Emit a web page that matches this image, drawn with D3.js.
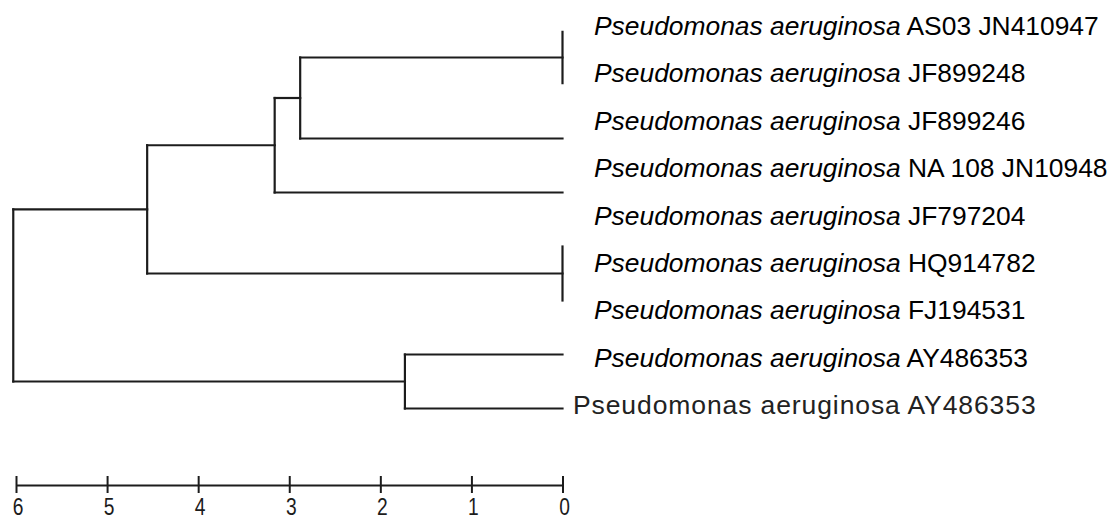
<!DOCTYPE html>
<html>
<head>
<meta charset="utf-8">
<script src="https://cdn.jsdelivr.net/npm/d3@7"></script>
<style>
  html, body { margin: 0; padding: 0; background: #fff; }
  svg { display: block; }
</style>
</head>
<body>
<svg id="chart" width="1113" height="520"></svg>
<script>
// ---- data ----
// terminal branches of the tree (top to bottom), their row in the tree and
// the half-height of the collapsed (zero distance) clusters drawn as a bar
const tipIds    = ["clusterA", "JF899246", "NA108", "clusterB", "AY486353a", "AY486353b"];
const tipRows   = [2, 5, 7, 10, 13, 15];
const tipSpans  = [0.95, 0, 0, 1.0, 0, 0];
// linkage matrix: [childA, childB, distance]; ids >= tips.length refer to earlier merges
const linkage = [
  [0, 1, 2.88],
  [6, 2, 3.16],
  [7, 3, 4.56],
  [4, 5, 1.73],
  [8, 9, 6.03]
];
// species labels
const labelGenus  = ["Pseudomonas aeruginosa","Pseudomonas aeruginosa","Pseudomonas aeruginosa",
                     "Pseudomonas aeruginosa","Pseudomonas aeruginosa","Pseudomonas aeruginosa",
                     "Pseudomonas aeruginosa","Pseudomonas aeruginosa","Pseudomonas aeruginosa"];
const labelStrain = ["AS03 JN410947","JF899248","JF899246","NA 108 JN10948","JF797204",
                     "HQ914782","FJ194531","AY486353","AY486353"];
const labelItalic = [true, true, true, true, true, true, true, true, false];
// scale bar ticks
const scaleTicks = [6, 5, 4, 3, 2, 1, 0];

// ---- drawing ----
const svg = d3.select("#chart");
const ink = "#1c1c1c";

const x = d3.scaleLinear().domain([6, 0]).range([16, 562.5]);
const y = d3.scaleLinear().domain([0, 1]).range([3.5, 30.5]);   // tree rows
const labelY = d3.scaleLinear().domain([0, 1]).range([35, 82.4]); // label baselines

// build node positions
const nodes = tipIds.map((id, i) => ({ id, row: tipRows[i], h: 0, span: tipSpans[i] }));
linkage.forEach(([a, b, h]) => {
  const na = nodes[a], nb = nodes[b];
  nodes.push({ id: "n" + nodes.length, row: (na.row + nb.row) / 2, h, children: [na, nb] });
});

const tree = svg.append("g")
  .attr("fill", "none")
  .attr("stroke", ink)
  .attr("stroke-width", 2.2)
  .attr("stroke-linecap", "square");

nodes.filter(n => n.children).forEach(n => {
  const [a, b] = n.children;
  tree.append("line")
    .attr("x1", x(n.h)).attr("x2", x(n.h))
    .attr("y1", y(a.row)).attr("y2", y(b.row));
  [a, b].forEach(c => {
    tree.append("line")
      .attr("x1", x(n.h)).attr("x2", x(c.h))
      .attr("y1", y(c.row)).attr("y2", y(c.row));
  });
});
nodes.filter(n => n.span > 0).forEach(n => {
  tree.append("line")
    .attr("x1", x(n.h)).attr("x2", x(n.h))
    .attr("y1", y(n.row - n.span)).attr("y2", y(n.row + n.span));
});

// labels
const lab = svg.append("g").attr("font-family", "'Liberation Sans', Arial, sans-serif");
labelStrain.forEach((s, i) => {
  const t = lab.append("text")
    .attr("y", labelY(i) + (labelItalic[i] ? 0 : -0.5))
    .attr("x", labelItalic[i] ? 594 : 573)
    .attr("font-size", labelItalic[i] ? 26.4 : 26.5)
    .attr("fill", labelItalic[i] ? "#000" : "#222");
  if (labelItalic[i]) {
    t.append("tspan").attr("font-style", "italic").text(labelGenus[i]);
    t.append("tspan").text(" " + s);
  } else {
    t.attr("letter-spacing", 0.9).text(labelGenus[i] + " " + s);
  }
});

// scale bar
const axis = d3.axisBottom(x).tickValues(scaleTicks).tickSize(9).tickSizeOuter(0).tickFormat(d3.format("d"));
const ag = svg.append("g").attr("transform", "translate(0,485)").call(axis);
ag.attr("font-size", null).attr("font-family", null);
ag.select(".domain").attr("stroke", ink).attr("stroke-width", 2);
ag.selectAll(".tick line").attr("stroke", ink).attr("stroke-width", 2).attr("y1", -9).attr("y2", 8);
ag.selectAll(".tick text")
  .attr("fill", ink)
  .attr("dy", null)
  .attr("y", 0)
  .attr("transform", "translate(1.5,30) scale(0.8,1)")
  .style("font-family", "'Liberation Sans', Arial, sans-serif")
  .style("font-size", "24px");
</script>
</body>
</html>
